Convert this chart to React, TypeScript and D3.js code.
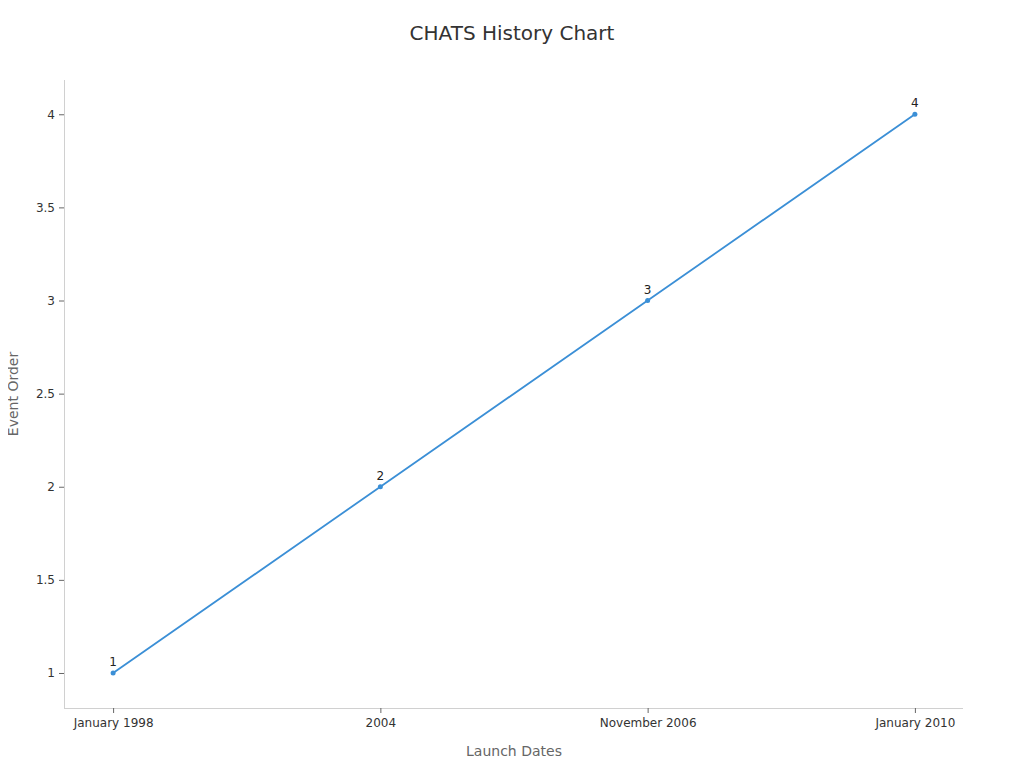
import { useEffect, useRef } from 'react';
import * as d3 from 'd3';

const categories = ['January 1998', '2004', 'November 2006', 'January 2010'];
const eventOrder = [1, 2, 3, 4];
const yTicks = [1, 1.5, 2, 2.5, 3, 3.5, 4];

export default function App() {
  const svgRef = useRef<SVGSVGElement>(null);

  useEffect(() => {
    if (!svgRef.current) return;
    const width = 1024;
    const height = 768;
    const font = "'DejaVu Sans', sans-serif";

    const svg = d3.select(svgRef.current);
    svg.selectAll('*').remove();
    svg.attr('width', width).attr('height', height).style('font-family', font);

    const margin = { top: 80, right: 61, bottom: 60, left: 64 };

    const x = d3.scalePoint<string>()
      .domain(categories)
      .range([margin.left + 1, width - margin.right])
      .padding(0.18);

    const y = d3.scaleLinear()
      .domain([0.812, 4.184])
      .range([height - margin.bottom, margin.top]);

    // title
    svg.append('text')
      .attr('x', 512)
      .attr('y', 40)
      .attr('text-anchor', 'middle')
      .attr('fill', '#333')
      .attr('font-size', 20)
      .text('CHATS History Chart');

    // y axis
    const yAxis = svg.append('g')
      .attr('transform', `translate(${margin.left},0)`)
      .call(d3.axisLeft(y).tickValues(yTicks).tickSize(5).tickPadding(4).tickFormat(d => String(d)));
    yAxis.select('.domain').attr('stroke', '#d0d0d0').attr('d', `M0.5,${margin.top}V${height - margin.bottom}`);
    yAxis.selectAll('.tick line').attr('stroke', '#666');
    yAxis.selectAll('.tick text').attr('fill', '#333').attr('font-size', 12).style('font-family', font);

    // x axis
    const xAxis = svg.append('g')
      .attr('transform', `translate(0,${height - margin.bottom})`)
      .call(d3.axisBottom(x).tickSize(5).tickPadding(5));
    xAxis.select('.domain').attr('stroke', '#d0d0d0').attr('d', `M${margin.left},0.5H${width - margin.right}`);
    xAxis.selectAll('.tick line').attr('stroke', '#666');
    xAxis.selectAll('.tick text').attr('fill', '#333').attr('font-size', 12).style('font-family', font);

    // axis titles
    svg.append('text')
      .attr('x', 514)
      .attr('y', 756)
      .attr('text-anchor', 'middle')
      .attr('fill', '#666')
      .attr('font-size', 14)
      .text('Launch Dates');

    svg.append('text')
      .attr('transform', `translate(18,394) rotate(-90)`)
      .attr('text-anchor', 'middle')
      .attr('fill', '#666')
      .attr('font-size', 14)
      .text('Event Order');

    const data = categories.map((c, i) => ({ c, v: eventOrder[i] }));

    const line = d3.line<{ c: string; v: number }>()
      .x(d => x(d.c)!)
      .y(d => y(d.v));

    svg.append('path')
      .datum(data)
      .attr('fill', 'none')
      .attr('stroke', '#3b8fd6')
      .attr('stroke-width', 1.8)
      .attr('d', line);

    svg.selectAll('circle.pt')
      .data(data)
      .enter()
      .append('circle')
      .attr('class', 'pt')
      .attr('cx', d => x(d.c)!)
      .attr('cy', d => y(d.v))
      .attr('r', 2.5)
      .attr('fill', '#3b8fd6');

    svg.selectAll('text.lbl')
      .data(data)
      .enter()
      .append('text')
      .attr('class', 'lbl')
      .attr('x', d => x(d.c)!)
      .attr('y', d => y(d.v) - 7)
      .attr('text-anchor', 'middle')
      .attr('fill', '#222')
      .attr('font-size', 12)
      .text(d => String(d.v));
  }, []);

  return <svg ref={svgRef} style={{ display: 'block', margin: '-8px' }}></svg>;
}
